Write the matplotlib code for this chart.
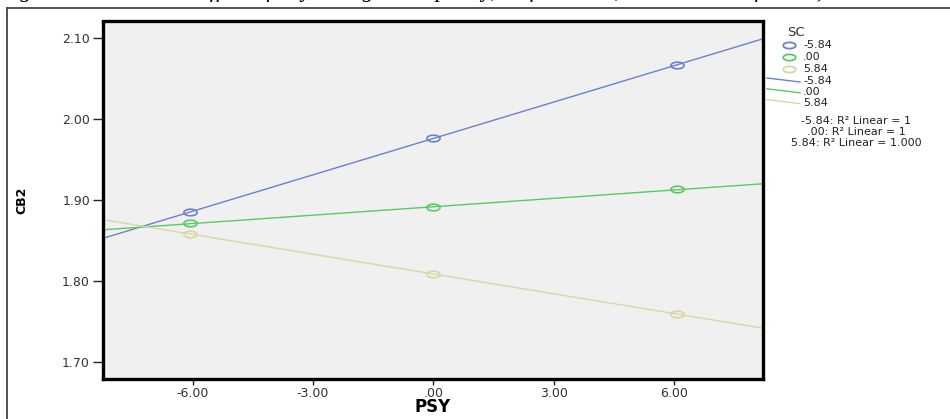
import matplotlib
matplotlib.use("Agg")
import matplotlib.pyplot as plt
from matplotlib.lines import Line2D
from matplotlib.path import Path
import numpy as np

# ---- data ----
psy_levels = [-6.08, 0.0, 6.08]
sc_labels = ["-5.84", ".00", "5.84"]
cb2_low = [1.885, 1.976, 2.067]    # SC = -5.84
cb2_mid = [1.871, 1.891, 1.913]    # SC = .00
cb2_high = [1.858, 1.809, 1.759]   # SC = 5.84
r2_labels = ["-5.84: R² Linear = 1", ".00: R² Linear = 1", "5.84: R² Linear = 1.000"]
x_ticks = [-6, -3, 0, 3, 6]
x_ticklabels = ["-6.00", "-3.00", ".00", "3.00", "6.00"]
y_ticks = [1.70, 1.80, 1.90, 2.00, 2.10]
y_ticklabels = ["1.70", "1.80", "1.90", "2.00", "2.10"]
title_text = "Figure 3: Interaction effect of Psychological capacity, Self-Control, with Job Satisfaction)"

plt.rcParams["font.family"] = ["DejaVu Sans"]

colors = ["#6f80c6", "#5cc669", "#d9d6a8"]
series = [cb2_low, cb2_mid, cb2_high]

# flattened circle marker (the source image is horizontally stretched)
t = np.linspace(0, 2 * np.pi, 60)
ell = Path(np.column_stack([np.cos(t), 0.5 * np.sin(t)]))

W, H = 950, 419
fig = plt.figure(figsize=(W / 100, H / 100), dpi=100)
fig.patch.set_facecolor("white")

def fx(px):
    return px / W

def fy(py):
    return 1 - py / H

L, R, T, B = 102.5, 763, 21.5, 379
ax = fig.add_axes([fx(L), fy(B), fx(R) - fx(L), fy(T) - fy(B)])
ax.set_facecolor("#f0f0f0")
xmin, xmax = -8.25, 8.22
ymin, ymax = 1.679, 2.1204
ax.set_xlim(xmin, xmax)
ax.set_ylim(ymin, ymax)

xx = np.array([xmin, xmax])
for vals, c in zip(series, colors):
    k, b = np.polyfit(psy_levels, vals, 1)
    ax.plot(xx, k * xx + b, color=c, lw=1.0, zorder=2)
    ax.plot(psy_levels, vals, linestyle="none", marker=ell, ms=9.5,
            mfc="none", mec=c, mew=1.2, zorder=3)

for s in ax.spines.values():
    s.set_linewidth(2.4)
    s.set_color("black")

ax.set_xticks(x_ticks)
ax.set_xticklabels(x_ticklabels)
ax.set_yticks(y_ticks)
ax.set_yticklabels(y_ticklabels)
ax.tick_params(axis="both", direction="out", width=1, colors="#222222",
               labelsize=9, labelcolor="#333333")
ax.tick_params(axis="x", length=4, pad=1.5)
ax.tick_params(axis="y", length=7.5, pad=1.5)
fig.text(fx(433), fy(407), "PSY", fontsize=12, fontweight="bold", ha="center", va="center")
fig.text(fx(22), fy(200), "CB2", fontsize=9, fontweight="bold", ha="center", va="center",
         rotation=90)

# legend (outside, right)
fig.text(fx(787), fy(32), "SC", fontsize=9.5, color="#333333", va="center", ha="left")
for i, (c, lab) in enumerate(zip(colors, sc_labels)):
    y = 45.5 + i * 11.7
    fig.add_artist(Line2D([fx(789)], [fy(y)], marker=ell, ms=9, mfc="none",
                          mec=c, mew=1.3, linestyle="none"))
    fig.text(fx(803), fy(y), lab, fontsize=8, color="#222222", va="center", ha="left")
for i, (c, lab) in enumerate(zip(colors, sc_labels)):
    y = 81 + i * 10.8
    fig.add_artist(Line2D([fx(767), fx(800)], [fy(y - 3), fy(y + 1)], color=c, lw=1.0))
    fig.text(fx(803), fy(y), lab, fontsize=8, color="#222222", va="center", ha="left")
for i, lab in enumerate(r2_labels):
    y = 120.5 + i * 11.2
    fig.text(fx(856), fy(y), lab, fontsize=8, color="#222222", va="center", ha="center")

# outer frame lines (left and top)
fig.add_artist(Line2D([fx(7), fx(7)], [fy(8), fy(419)], color="#444444", lw=1.3))
fig.add_artist(Line2D([fx(7), fx(950)], [fy(8), fy(8)], color="#444444", lw=1.3))

# clipped caption at the very top
fig.text(fx(0), fy(-3), title_text, fontsize=16.5, family="Liberation Serif",
         style="italic", va="baseline", ha="left", color="black")

fig.savefig("out.png", dpi=100)
